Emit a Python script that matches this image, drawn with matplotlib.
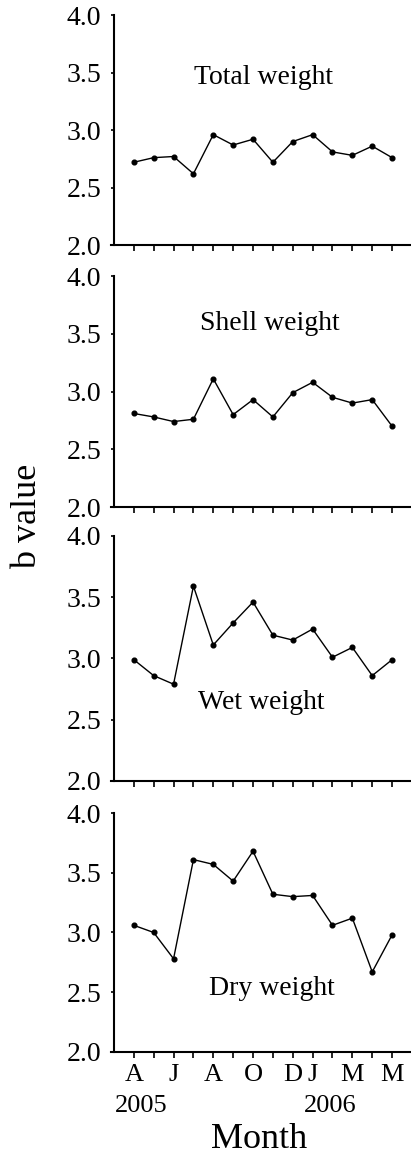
import numpy as np
import matplotlib.pyplot as plt

months = np.arange(14)  # Apr 2005 .. May 2006
total_weight = [2.72, 2.76, 2.77, 2.62, 2.96, 2.87, 2.92, 2.72, 2.90, 2.96, 2.81, 2.78, 2.86, 2.76]
shell_weight = [2.81, 2.78, 2.74, 2.76, 3.11, 2.80, 2.93, 2.78, 2.99, 3.08, 2.95, 2.90, 2.93, 2.70]
wet_weight = [2.99, 2.86, 2.79, 3.59, 3.11, 3.29, 3.46, 3.19, 3.15, 3.24, 3.01, 3.09, 2.86, 2.99]
dry_weight = [3.06, 3.00, 2.78, 3.61, 3.57, 3.43, 3.68, 3.32, 3.30, 3.31, 3.06, 3.12, 2.67, 2.98]

titles = ['Total weight', 'Shell weight', 'Wet weight', 'Dry weight']
series = [total_weight, shell_weight, wet_weight, dry_weight]
tick_pos = [0, 2, 4, 6, 8, 9, 11, 13]
tick_lab = ['A', 'J', 'A', 'O', 'D', 'J', 'M', 'M']

plt.rcParams['font.family'] = 'Liberation Serif'

fig = plt.figure(figsize=(4.11, 11.56), dpi=100)
# [bottom, height] of each panel in figure fractions
boxes = [(0.788, 0.199), (0.5614, 0.1998), (0.3244, 0.212), (0.090, 0.2067)]
title_xy = [(6.52, 3.46), (6.87, 3.59), (6.43, 2.64), (6.97, 2.53)]

for i in range(4):
    ax = fig.add_axes([0.270, boxes[i][0], 0.7275, boxes[i][1]])
    ax.plot(months, series[i], color='black', lw=1.0, marker='o', ms=3.4)
    ax.set_xlim(-1.15, 13.9)
    ax.set_ylim(2.0, 4.0)
    ax.spines['top'].set_visible(False)
    ax.spines['right'].set_visible(False)
    ax.spines['left'].set_position(('data', -1.0))
    ax.spines['left'].set_linewidth(1.5)
    ax.spines['bottom'].set_linewidth(1.5)
    ax.set_yticks([2.0, 2.5, 3.0, 3.5, 4.0])
    ax.set_yticklabels(['2.0', '2.5', '3.0', '3.5', '4.0'])
    ax.tick_params(axis='y', direction='out', length=2, width=1.2, pad=7, labelsize=20)
    ax.set_xticks(months)
    ax.tick_params(axis='x', direction='out', length=4, width=1.2)
    if i < 3:
        ax.set_xticklabels([])
    else:
        ax.set_xticks(tick_pos, labels=tick_lab)
        ax.set_xticks(months, minor=True)
        ax.tick_params(axis='x', which='both', direction='out', length=4, width=1.2, pad=5, labelsize=19)
        ax.text(0.35, -0.225, '2005', transform=ax.get_xaxis_transform(), ha='center', va='center', fontsize=19)
        ax.text(9.86, -0.225, '2006', transform=ax.get_xaxis_transform(), ha='center', va='center', fontsize=19)
    ax.text(title_xy[i][0], title_xy[i][1], titles[i], ha='center', va='center', fontsize=20)

fig.text(0.066, 0.553, 'b value', rotation=90, ha='center', va='center', fontsize=26)
fig.text(0.630, 0.014, 'Month', ha='center', va='center', fontsize=26)

plt.savefig('out.png', dpi=100)
